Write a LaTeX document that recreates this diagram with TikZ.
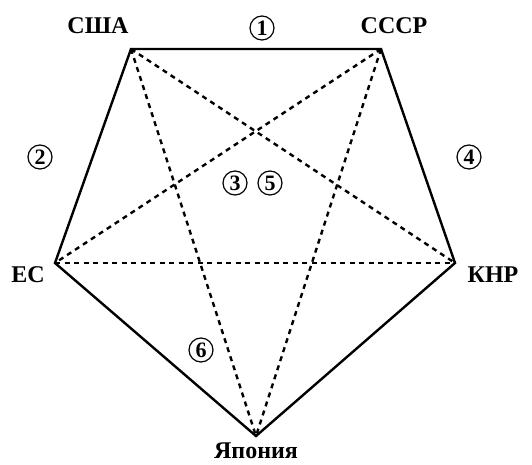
\documentclass[tikz,border=0pt]{standalone}
\usepackage{fontspec}
\setmainfont{Liberation Serif}
\begin{document}
\begin{tikzpicture}[x = {(1pt, 0pt)}, y = {(0pt, -1pt)}, line width=2.4pt]
  \tikzset{country/.style={font=\bfseries\fontsize{24}{24}\selectfont},
    num/.style={draw, circle, line width=1.2pt, inner sep=0pt, minimum size=24pt,
      font=\bfseries\fontsize{22}{22}\selectfont},
    diag/.style={dash pattern=on 5pt off 4.5pt}}
  \useasboundingbox (0, 0) rectangle (532, 465);

  \coordinate (usa) at (131, 49);
  \coordinate (sssr) at (381, 49);
  \coordinate (knr) at (455, 263);
  \coordinate (jap) at (256, 436);
  \coordinate (es) at (55, 263);

  \node[country] (lusa) at (98, 26) {США};
  \node[country] (lsssr) at (394, 26) {СССР};
  \node[country] (lknr) at (493, 275) {КНР};
  \node[country] (les) at (28, 275) {ЕС};
  \node[country] (ljap) at (256, 451) {Япония};

  % edges
  \draw (usa) -- (sssr) -- (knr) -- (jap) -- (es) -- cycle;

  % diagonals
  \draw[diag] (usa) -- (knr);
  \draw[diag] (usa) -- (jap);
  \draw[diag] (sssr) -- (es);
  \draw[diag] (sssr) -- (jap);
  \draw[diag] (es) -- (knr);

  \node[num] (n1) at (262, 28) {1};
  \node[num] (n2) at (40, 157) {2};
  \node[num] (n3) at (235, 183) {3};
  \node[num] (n4) at (469, 157) {4};
  \node[num] (n5) at (270, 183) {5};
  \node[num] (n6) at (201, 350) {6};
\end{tikzpicture}
\end{document}
